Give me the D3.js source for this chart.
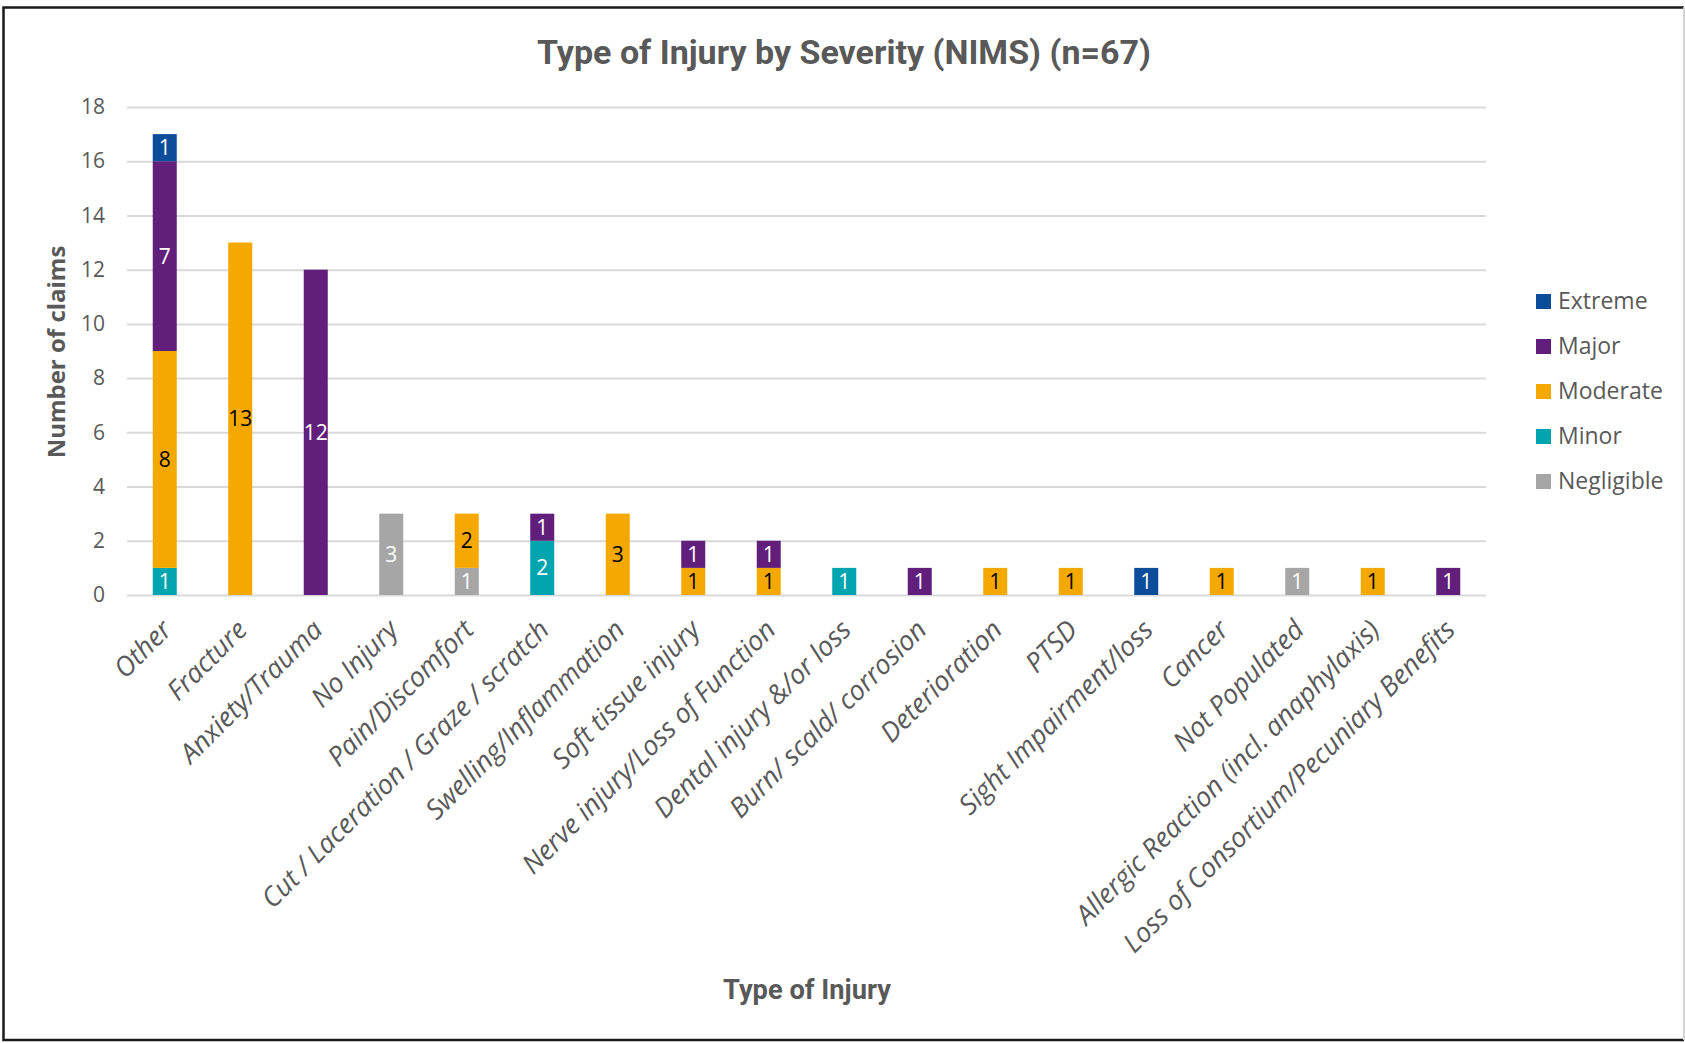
<!DOCTYPE html>
<html>
<head>
<meta charset="utf-8">
<script src="https://cdn.jsdelivr.net/npm/d3@7"></script>
<style>
  body { margin: 0; background: #fff; }
  svg { display: block; }
</style>
</head>
<body>
<svg id="chart" width="1685" height="1043"></svg>
<script>
// Injury types, in bar order
const categories = [
  "Other", "Fracture", "Anxiety/Trauma", "No Injury", "Pain/Discomfort",
  "Cut / Laceration / Graze / scratch", "Swelling/Inflammation", "Soft tissue injury",
  "Nerve injury/Loss of Function", "Dental injury &/or loss", "Burn/ scald/ corrosion",
  "Deterioration", "PTSD", "Sight Impairment/loss", "Cancer", "Not Populated",
  "Allergic Reaction (incl. anaphylaxis)", "Loss of Consortium/Pecuniary Benefits"
];

// Claim counts per severity level (one value per injury type)
const negligible = [0, 0, 0, 3, 1, 0, 0, 0, 0, 0, 0, 0, 0, 0, 0, 1, 0, 0];
const minor      = [1, 0, 0, 0, 0, 2, 0, 0, 0, 1, 0, 0, 0, 0, 0, 0, 0, 0];
const moderate   = [8, 13, 0, 0, 2, 0, 3, 1, 1, 0, 0, 1, 1, 0, 1, 0, 1, 0];
const major      = [7, 0, 12, 0, 0, 1, 0, 1, 1, 0, 1, 0, 0, 0, 0, 0, 0, 1];
const extreme    = [1, 0, 0, 0, 0, 0, 0, 0, 0, 0, 0, 0, 0, 1, 0, 0, 0, 0];

// Stacking order, bottom to top
const severities = ["Negligible", "Minor", "Moderate", "Major", "Extreme"];
const yTicks = [0, 2, 4, 6, 8, 10, 12, 14, 16, 18];

const seriesValues = { Negligible: negligible, Minor: minor, Moderate: moderate, Major: major, Extreme: extreme };
const colors = { Extreme: "#0B4C9B", Major: "#611F7B", Moderate: "#F5A900", Minor: "#00A5AF", Negligible: "#A6A6A6" };
const labelColors = { Extreme: "#fff", Major: "#fff", Moderate: "#000", Minor: "#fff", Negligible: "#fff" };

const FONT = "'Open Sans', 'Noto Sans', sans-serif";
const NARROW = "Roboto, 'Open Sans', sans-serif";
const GREY = "#595959";

const svg = d3.select("#chart");
const W = 1685, H = 1043;
const plot = { left: 127, right: 1486, top: 107, bottom: 595 };

svg.append("rect").attr("width", W).attr("height", H).attr("fill", "#fff");

// Outer frame
svg.append("path")
  .attr("d", `M1684,7.5 H3.5 V1040 H1684`)
  .attr("fill", "none").attr("stroke", "#1a1a1a").attr("stroke-width", 2.5);
svg.append("line").attr("x1", 1684).attr("x2", 1684).attr("y1", 7).attr("y2", 1040)
  .attr("stroke", "#d4d4d4").attr("stroke-width", 2);

// Table for the stack layout
const table = categories.map((c, i) => {
  const row = { category: c };
  severities.forEach(s => row[s] = seriesValues[s][i]);
  return row;
});

const x = d3.scaleBand().domain(categories)
  .range([plot.left, plot.right])
  .paddingInner(0.682).paddingOuter(0.341);
const y = d3.scaleLinear().domain([0, 18]).range([plot.bottom, plot.top]);

// Y axis with gridlines
const yAxis = svg.append("g")
  .attr("transform", `translate(${plot.left},0)`)
  .call(d3.axisLeft(y).tickValues(yTicks).tickSize(-(plot.right - plot.left)).tickPadding(22));
yAxis.select(".domain").remove();
yAxis.selectAll(".tick line").attr("stroke", "#D9D9D9").attr("stroke-width", 2);
yAxis.selectAll(".tick text")
  .attr("fill", GREY).style("font-family", FONT).style("font-size", "21px");

// Stacked bars
const stacked = d3.stack().keys(severities)(table);
const layers = svg.append("g").selectAll("g").data(stacked).join("g")
  .attr("fill", d => colors[d.key]);

layers.selectAll("rect")
  .data(d => d.map(p => ({ key: d.key, p })).filter(o => o.p[1] - o.p[0] > 0))
  .join("rect")
  .attr("x", o => x(o.p.data.category))
  .attr("width", x.bandwidth())
  .attr("y", o => y(o.p[1]))
  .attr("height", o => y(o.p[0]) - y(o.p[1]));

// Value labels centred in each segment
layers.selectAll("text")
  .data(d => d.map(p => ({ key: d.key, p })).filter(o => o.p[1] - o.p[0] > 0))
  .join("text")
  .attr("x", o => x(o.p.data.category) + x.bandwidth() / 2)
  .attr("y", o => y((o.p[0] + o.p[1]) / 2))
  .attr("dy", "0.36em")
  .attr("text-anchor", "middle")
  .attr("fill", o => labelColors[o.key])
  .style("font-family", FONT).style("font-size", "21px")
  .text(o => o.p[1] - o.p[0]);

// X axis category labels, slanted
const xAxis = svg.append("g")
  .attr("transform", `translate(0,${plot.bottom})`)
  .call(d3.axisBottom(x).tickSize(0));
xAxis.select(".domain").remove();
xAxis.selectAll(".tick text")
  .attr("x", 0).attr("y", 0).attr("dy", "0.71em")
  .attr("text-anchor", "end")
  .attr("transform", "translate(-5,23) rotate(-45)")
  .attr("fill", GREY)
  .style("font-family", FONT).style("font-size", "27px").style("font-style", "italic");

// Fit a text element to a given width by scaling its font size
function fitWidth(sel, target) {
  const node = sel.node();
  const size = parseFloat(sel.style("font-size"));
  const len = node.getComputedTextLength();
  if (len > 0) sel.style("font-size", (size * target / len) + "px");
}

// Title
const title = svg.append("text")
  .attr("x", 844).attr("y", 64)
  .attr("text-anchor", "middle")
  .attr("fill", GREY)
  .style("font-family", NARROW).style("font-weight", "bold").style("font-size", "32px")
  .text("Type of Injury by Severity (NIMS) (n=67)");
fitWidth(title, 614);

// Axis titles
const xTitle = svg.append("text")
  .attr("x", 807).attr("y", 999)
  .attr("text-anchor", "middle")
  .attr("fill", GREY)
  .style("font-family", NARROW).style("font-weight", "bold").style("font-size", "23px")
  .text("Type of Injury");
fitWidth(xTitle, 168);

svg.append("text")
  .attr("transform", "translate(65,352) rotate(-90)")
  .attr("text-anchor", "middle")
  .attr("fill", GREY)
  .style("font-family", FONT).style("font-weight", "bold").style("font-size", "24px")
  .text("Number of claims");

// Legend, most severe first
const legendKeys = severities.slice().reverse();
const legend = svg.append("g").selectAll("g").data(legendKeys).join("g")
  .attr("transform", (d, i) => `translate(1536,${294 + i * 45})`);
legend.append("rect").attr("width", 15).attr("height", 15).attr("fill", d => colors[d]);
legend.append("text")
  .attr("x", 22).attr("y", 15)
  .attr("fill", GREY)
  .style("font-family", FONT).style("font-size", "23px")
  .text(d => d);
</script>
</body>
</html>
